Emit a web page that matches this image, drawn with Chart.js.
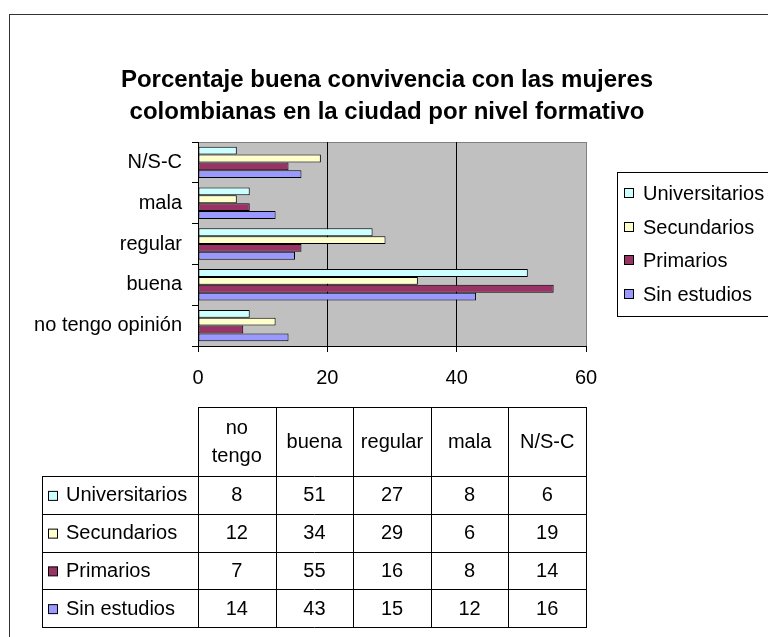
<!DOCTYPE html>
<html>
<head>
<meta charset="utf-8">
<script src="https://cdn.jsdelivr.net/npm/chart.js@4.4.0/dist/chart.umd.min.js"></script>
<style>
  body { margin: 0; background: #fff; }
  canvas { display: block; }
</style>
</head>
<body>
<canvas id="opinion" width="768" height="637"></canvas>
<script>
const categories = ['no tengo opinión', 'buena', 'regular', 'mala', 'N/S-C']
const tableHeaders = [['no', 'tengo'], ['buena'], ['regular'], ['mala'], ['N/S-C']]
const seriesNames = ['Universitarios', 'Secundarios', 'Primarios', 'Sin estudios']
const universitarios = [8, 51, 27, 8, 6]
const secundarios = [12, 34, 29, 6, 19]
const primarios = [7, 55, 16, 8, 14]
const sinEstudios = [14, 43, 15, 12, 16]
const xTicks = [0, 20, 40, 60]
const titleLines = ['Porcentaje buena convivencia con las mujeres', 'colombianas en la ciudad por nivel formativo']

const seriesValues = [universitarios, secundarios, primarios, sinEstudios]
const seriesColors = ['#CCFFFF', '#FFFFCC', '#993366', '#9999FF']
const FONT = '"Liberation Sans", Arial, sans-serif'

// frame, title, grey plot area, legend and data table, excel style
const excelBits = {
  id: 'excelBits',
  beforeDraw(chart) {
    const ctx = chart.ctx
    const a = chart.chartArea
    ctx.save()
    ctx.strokeStyle = '#333'
    ctx.lineWidth = 1
    ctx.strokeRect(9.5, 14.5, 900, 800)
    ctx.fillStyle = '#C0C0C0'
    ctx.fillRect(a.left, a.top, a.right - a.left, a.bottom - a.top)
    ctx.strokeStyle = '#808080'
    ctx.strokeRect(a.left + 0.5, a.top + 0.5, a.right - a.left, a.bottom - a.top)

    ctx.fillStyle = '#000'
    ctx.font = 'bold 24px ' + FONT
    ctx.textAlign = 'center'
    ctx.textBaseline = 'middle'
    ctx.fillText(titleLines[0], 387, 80)
    ctx.fillText(titleLines[1], 387, 112)
    ctx.restore()
  },
  afterDraw(chart) {
    const ctx = chart.ctx
    const x = chart.scales.x
    ctx.save()
    ctx.font = '20px ' + FONT
    ctx.textBaseline = 'middle'

    // legend
    ctx.strokeStyle = '#000'
    ctx.lineWidth = 1
    ctx.strokeRect(617.5, 172.5, 200, 144)
    const legendY = [193, 227, 260, 294]
    seriesNames.forEach((name, i) => {
      ctx.fillStyle = seriesColors[i]
      ctx.fillRect(624.5, legendY[i] - 4.5, 9, 9)
      ctx.strokeRect(624.5, legendY[i] - 4.5, 9, 9)
      ctx.fillStyle = '#000'
      ctx.textAlign = 'left'
      ctx.fillText(name, 643, legendY[i] + 1)
    })

    // data table
    const colW = (x.right - x.left) / categories.length
    const top = 407, headBottom = 476, rowH = 37.75
    const left = 42
    const bottom = headBottom + rowH * seriesNames.length
    ctx.strokeStyle = '#000'
    ctx.beginPath()
    for (let c = 0; c <= categories.length; c++) {
      const cx = Math.round(x.left + colW * c) + 0.5
      ctx.moveTo(cx, top)
      ctx.lineTo(cx, bottom)
    }
    ctx.moveTo(x.left, top + 0.5)
    ctx.lineTo(x.right + 1, top + 0.5)
    for (let r = 0; r <= seriesNames.length; r++) {
      const ry = Math.round(headBottom + rowH * r) + 0.5
      ctx.moveTo(left, ry)
      ctx.lineTo(x.right + 1, ry)
    }
    ctx.moveTo(left + 0.5, headBottom)
    ctx.lineTo(left + 0.5, bottom + 1)
    ctx.stroke()

    ctx.textAlign = 'center'
    ctx.fillStyle = '#000'
    tableHeaders.forEach((lines, c) => {
      const cx = x.left + colW * (c + 0.5)
      if (lines.length === 2) {
        ctx.fillText(lines[0], cx, 428)
        ctx.fillText(lines[1], cx, 456)
      } else {
        ctx.fillText(lines[0], cx, 442)
      }
    })
    seriesNames.forEach((name, r) => {
      const cy = headBottom + rowH * (r + 0.5) + 1
      ctx.fillStyle = seriesColors[r]
      ctx.fillRect(48.5, cy - 4.5, 9, 9)
      ctx.strokeRect(48.5, cy - 4.5, 9, 9)
      ctx.fillStyle = '#000'
      ctx.textAlign = 'left'
      ctx.fillText(name, 66, cy)
      ctx.textAlign = 'center'
      seriesValues[r].forEach((v, c) => {
        ctx.fillText(String(v), x.left + colW * (c + 0.5), cy)
      })
    })
    ctx.restore()
  }
}

const ctxOpinion = document.getElementById('opinion')
if(ctxOpinion) {
  const opinion = {
    type: 'bar',
    data: {
      labels: categories,
      datasets: seriesNames.map((name, i) => ({
        label: name,
        data: seriesValues[i],
        backgroundColor: seriesColors[i],
        borderColor: '#000',
        borderWidth: 1,
        borderSkipped: false,
        categoryPercentage: 0.77,
        barPercentage: 1,
      })),
    },
    options: {
      indexAxis: 'y',
      responsive: false,
      animation: false,
      layout: { padding: { left: 0, right: 182, top: 142, bottom: 0 } },
      scales: {
        x: {
          min: 0,
          max: 60,
          afterBuildTicks: (scale) => { scale.ticks = xTicks.map(v => ({ value: v })) },
          afterFit: (scale) => { scale.height = 637 - 346 },
          grid: {
            color: (c) => c.tick && c.tick.value === 60 ? '#808080' : '#000',
            tickColor: '#000',
            tickLength: 6,
          },
          border: { color: '#000' },
          ticks: { color: '#000', padding: 14, font: { family: FONT, size: 20 } },
        },
        y: {
          reverse: true,
          afterFit: (scale) => { scale.width = 198 },
          grid: { drawOnChartArea: false, tickColor: '#000', tickLength: 6 },
          border: { color: '#000' },
          ticks: { color: '#000', padding: 10, font: { family: FONT, size: 20 } },
        },
      },
      plugins: {
        legend: { display: false },
        tooltip: { enabled: false },
        title: { display: false },
      },
    },
    plugins: [excelBits],
  }

  window.myBar = new Chart(ctxOpinion, opinion)
}
</script>
</body>
</html>
